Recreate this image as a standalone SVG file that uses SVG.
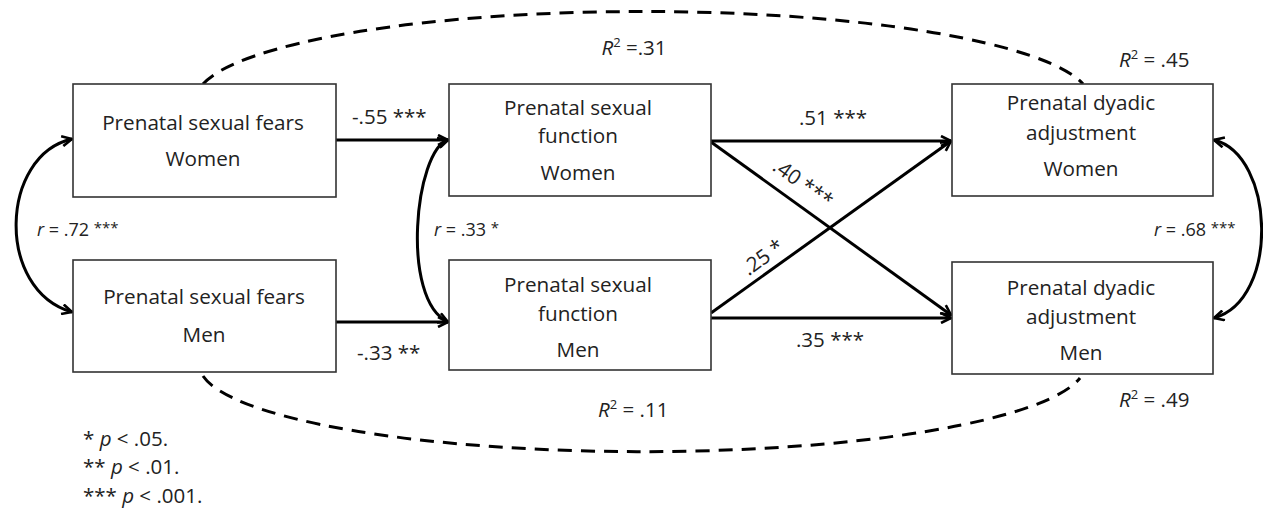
<svg xmlns="http://www.w3.org/2000/svg" width="1263" height="513" viewBox="0 0 1263 513">
<style>
  .box rect { fill: #fff; stroke: #333; stroke-width: 1.6; }
  .bt { font-family: "Open Sans", "Liberation Sans", sans-serif; font-size: 20.7px; fill: #222; text-anchor: middle; }
  .lb { font-family: "Open Sans", "Liberation Sans", sans-serif; font-size: 20.5px; fill: #222; }
  .sm { font-family: "Open Sans", "Liberation Sans", sans-serif; font-size: 18px; fill: #222; }
  .it { font-style: italic; }
  .st { font-size: 15px; }
  .sup { font-size: 13px; }
  .conn path, .conn line { fill: none; stroke: #000; stroke-width: 3; }
  .conn .dash { stroke-dasharray: 14 9; stroke-width: 3; }
</style>
<defs>
  <marker id="ah" viewBox="0 0 12 12" refX="11" refY="6" markerWidth="12" markerHeight="12" markerUnits="userSpaceOnUse" orient="auto-start-reverse">
    <path d="M1,1 L11,6 L1,11" fill="none" stroke="#000" stroke-width="2.6"/>
  </marker>
</defs>
<rect width="1263" height="513" fill="#fff"/>

<g class="conn" id="connectors">
  <path class="dash" d="M203,84 A447,88 0 0 1 1083,84"/>
  <path class="dash" d="M203,376 A443,87 0 0 0 1080,378"/>
  <line x1="336" y1="140" x2="448" y2="140" marker-end="url(#ah)"/>
  <line x1="336" y1="322" x2="448" y2="322" marker-end="url(#ah)"/>
  <line x1="711" y1="141" x2="951" y2="141" marker-end="url(#ah)"/>
  <line x1="711" y1="318" x2="951" y2="318" marker-end="url(#ah)"/>
  <line x1="711" y1="142" x2="951" y2="315" marker-end="url(#ah)"/>
  <line x1="711" y1="313" x2="951" y2="141" marker-end="url(#ah)"/>
  <path d="M72,139 C0,155 -5,290 72,312" marker-start="url(#ah)" marker-end="url(#ah)"/>
  <path d="M448,140 C415,150 400,300 448,322" marker-start="url(#ah)" marker-end="url(#ah)"/>
  <path d="M1214,140 C1275,155 1280,300 1214,318" marker-start="url(#ah)" marker-end="url(#ah)"/>
</g>

<g class="box" id="fears-women">
  <rect x="73" y="84" width="263" height="113"/>
  <text class="bt" x="203" y="130">Prenatal sexual fears</text>
  <text class="bt" x="203" y="166">Women</text>
</g>
<g class="box" id="fears-men">
  <rect x="73" y="260" width="263" height="112"/>
  <text class="bt" x="204" y="304">Prenatal sexual fears</text>
  <text class="bt" x="204" y="342">Men</text>
</g>
<g class="box" id="function-women">
  <rect x="449" y="84" width="262" height="112"/>
  <text class="bt" x="578" y="115">Prenatal sexual</text>
  <text class="bt" x="578" y="143">function</text>
  <text class="bt" x="578" y="180">Women</text>
</g>
<g class="box" id="function-men">
  <rect x="449" y="260" width="262" height="110"/>
  <text class="bt" x="578" y="292">Prenatal sexual</text>
  <text class="bt" x="578" y="321">function</text>
  <text class="bt" x="578" y="357">Men</text>
</g>
<g class="box" id="dyadic-women">
  <rect x="952" y="84" width="261" height="112"/>
  <text class="bt" x="1081" y="110">Prenatal dyadic</text>
  <text class="bt" x="1081" y="140">adjustment</text>
  <text class="bt" x="1081" y="176">Women</text>
</g>
<g class="box" id="dyadic-men">
  <rect x="952" y="262" width="261" height="112"/>
  <text class="bt" x="1081" y="295">Prenatal dyadic</text>
  <text class="bt" x="1081" y="324">adjustment</text>
  <text class="bt" x="1081" y="360">Men</text>
</g>

<g id="labels">
  <text class="lb" x="352" y="124">-.55 ***</text>
  <text class="lb" x="357" y="360">-.33 **</text>
  <text class="lb" x="833" y="125" text-anchor="middle">.51 ***</text>
  <text class="lb" x="830" y="347" text-anchor="middle">.35 ***</text>
  <text class="lb" x="0" y="0" text-anchor="middle" transform="translate(799,189) rotate(35.6)">.40 ***</text>
  <text class="lb" x="0" y="0" text-anchor="middle" transform="translate(767,263) rotate(-35.6)">.25 *</text>
  <text class="lb" x="634" y="55" text-anchor="middle"><tspan class="it">R</tspan><tspan class="sup" dy="-8">2</tspan><tspan dy="8"> =.31</tspan></text>
  <text class="lb" x="1119" y="67"><tspan class="it">R</tspan><tspan class="sup" dy="-8">2</tspan><tspan dy="8"> = .45</tspan></text>
  <text class="lb" x="598" y="417"><tspan class="it">R</tspan><tspan class="sup" dy="-8">2</tspan><tspan dy="8"> = .11</tspan></text>
  <text class="lb" x="1119" y="407"><tspan class="it">R</tspan><tspan class="sup" dy="-8">2</tspan><tspan dy="8"> = .49</tspan></text>
  <text class="sm" x="37" y="236"><tspan class="it">r</tspan> = .72 <tspan class="st" dy="-3">***</tspan></text>
  <text class="sm" x="434" y="236"><tspan class="it">r</tspan> = .33 <tspan class="st" dy="-3">*</tspan></text>
  <text class="sm" x="1154" y="236"><tspan class="it">r</tspan> = .68 <tspan class="st" dy="-3">***</tspan></text>
  <text class="lb" x="83" y="446">* <tspan class="it">p</tspan> &lt; .05.</text>
  <text class="lb" x="83" y="474">** <tspan class="it">p</tspan> &lt; .01.</text>
  <text class="lb" x="83" y="503">*** <tspan class="it">p</tspan> &lt; .001.</text>
</g>
</svg>
